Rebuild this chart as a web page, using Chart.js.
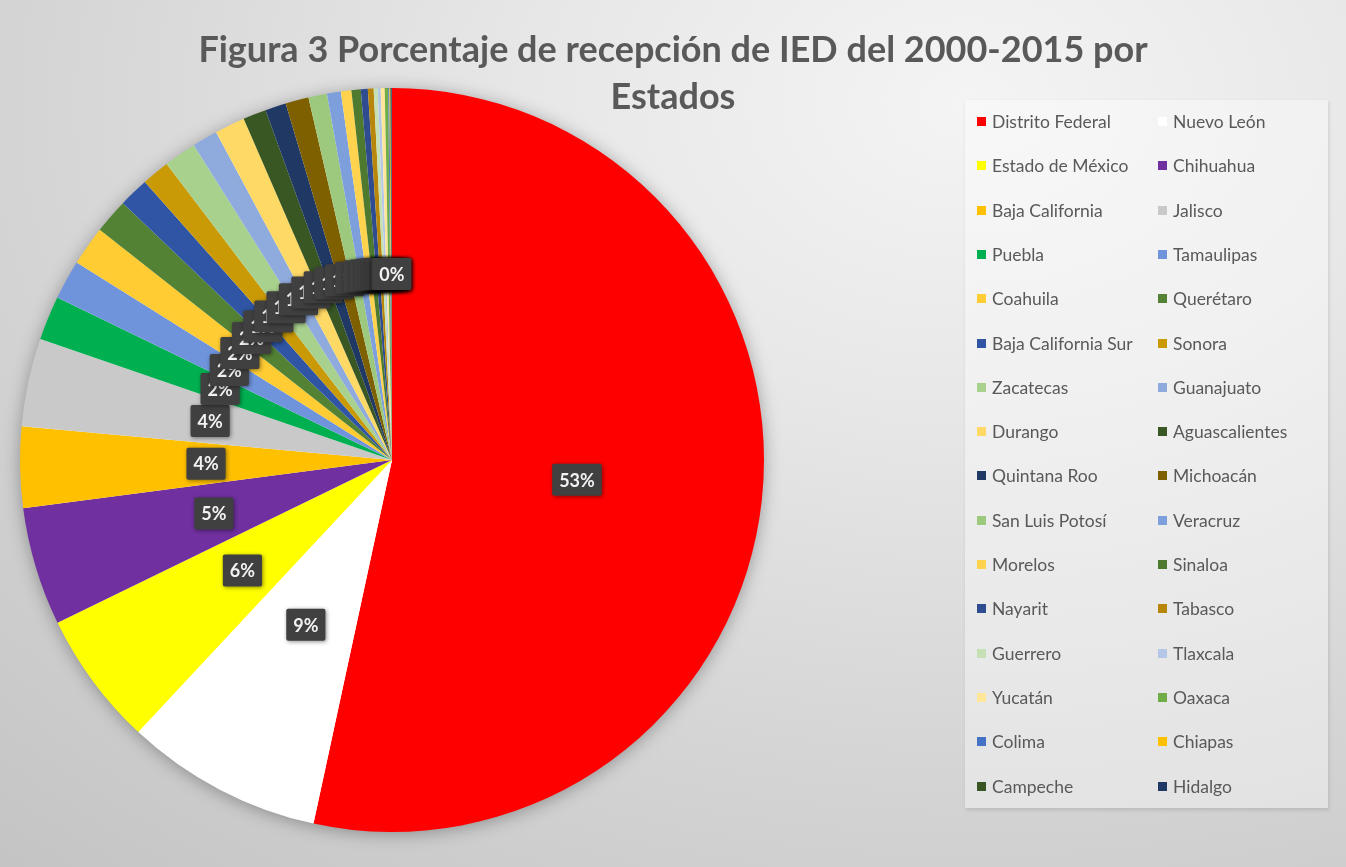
<!DOCTYPE html>
<html>
<head>
<meta charset="utf-8">
<script src="https://cdn.jsdelivr.net/npm/chart.js@4.4.1/dist/chart.umd.min.js"></script>
<style>
  html, body { margin: 0; padding: 0; }
  body {
    width: 1346px; height: 867px; overflow: hidden; position: relative;
    background: radial-gradient(ellipse 110% 120% at 72% 12%, #f4f4f4 0%, #e7e7e7 30%, #d4d4d4 65%, #c3c3c3 100%);
    font-family: Lato, "Open Sans", sans-serif;
  }
  #wrap { position: absolute; left: 0; top: 0; width: 1346px; height: 867px; }
  #title {
    position: absolute; left: 0; top: 25px; width: 1346px; text-align: center;
    font: bold 36px Lato, sans-serif; color: #595959; line-height: 47px;
  }
  #legend {
    position: absolute; left: 965px; top: 100px; width: 363px; height: 708px;
    background: rgba(255,255,255,0.38);
    box-shadow: 1px 2px 4px rgba(0,0,0,0.12);
  }
  .item { position: absolute; font-size: 17.5px; color: #595959; white-space: nowrap; line-height: 20px; }
  .item span.box { display: inline-block; width: 9px; height: 9px; margin-right: 6px; vertical-align: 2px; }
</style>
</head>
<body>
<div id="wrap"><canvas id="pie"></canvas></div>
<div id="title">Figura 3 Porcentaje de recepción de IED del 2000-2015 por<br>Estados</div>
<div id="legend"></div>
<script>
const estados = [
  'Distrito Federal', 'Nuevo León', 'Estado de México', 'Chihuahua', 'Baja California', 'Jalisco',
  'Puebla', 'Tamaulipas', 'Coahuila', 'Querétaro', 'Baja California Sur', 'Sonora',
  'Zacatecas', 'Guanajuato', 'Durango', 'Aguascalientes', 'Quintana Roo', 'Michoacán',
  'San Luis Potosí', 'Veracruz', 'Morelos', 'Sinaloa', 'Nayarit', 'Tabasco',
  'Guerrero', 'Tlaxcala', 'Yucatán', 'Oaxaca', 'Colima', 'Chiapas', 'Campeche', 'Hidalgo'
];
// percent of IED received
const porcentajes = [
  53.0, 8.5, 5.8, 5.1, 3.5, 3.8,
  1.9, 1.7, 1.7, 1.5, 1.3, 1.2,
  1.4, 1.1, 1.3, 1.0, 0.9, 1.0,
  0.8, 0.6, 0.45, 0.4, 0.3, 0.25,
  0.17, 0.13, 0.17, 0.15, 0.05, 0.04, 0.04, 0.03
];
const colores = [
  '#ff0000', '#ffffff', '#ffff00', '#7030a0', '#ffc000', '#c9c9c9',
  '#00b050', '#6f94dc', '#ffcc33', '#548235', '#2f55a4', '#c99a06',
  '#a9d18e', '#8faadc', '#ffd966', '#385723', '#203864', '#7f6000',
  '#9dc97f', '#7da0dc', '#ffd34d', '#4e7a2f', '#2e4c8f', '#b8860b',
  '#c5e0b4', '#b4c7e7', '#ffe699', '#70ad47', '#4472c4', '#ffc000', '#375623', '#1f3864'
];

// legend, two columns filled row by row
const legend = document.getElementById('legend');
for (let i = 0; i < estados.length; i++) {
  const d = document.createElement('div');
  d.className = 'item';
  d.style.left = (i % 2 === 0 ? 12 : 193) + 'px';
  d.style.top = (12 + Math.floor(i / 2) * 44.3) + 'px';
  d.innerHTML = '<span class="box" style="background:' + colores[i] + '"></span>' + estados[i];
  legend.appendChild(d);
}

const pieShadow = {
  id: 'pieShadow',
  beforeDatasetsDraw(chart) {
    const arc = chart.getDatasetMeta(0).data[0];
    if (!arc) return;
    const ctx = chart.ctx;
    ctx.save();
    ctx.shadowColor = 'rgba(0,0,0,0.35)';
    ctx.shadowBlur = 18;
    ctx.shadowOffsetX = 0;
    ctx.shadowOffsetY = 2;
    ctx.fillStyle = '#ffffff';
    ctx.beginPath();
    ctx.arc(arc.x, arc.y, arc.outerRadius - 1, 0, Math.PI * 2);
    ctx.fill();
    ctx.restore();
  }
};

const pctLabels = {
  id: 'pctLabels',
  afterDatasetsDraw(chart) {
    const ctx = chart.ctx;
    const meta = chart.getDatasetMeta(0);
    const data = chart.data.datasets[0].data;
    const total = data.reduce((a, b) => a + b, 0);
    ctx.save();
    ctx.font = 'bold 18px Lato, sans-serif';
    ctx.textAlign = 'center';
    ctx.textBaseline = 'middle';
    meta.data.forEach((arc, i) => {
      const p = arc.tooltipPosition();
      const txt = Math.round(data[i] / total * 100) + '%';
      const w = ctx.measureText(txt).width + 14;
      const h = 32;
      ctx.shadowColor = 'rgba(0,0,0,0.45)';
      ctx.shadowBlur = 4;
      ctx.shadowOffsetX = 1;
      ctx.shadowOffsetY = 1;
      ctx.fillStyle = '#404040';
      ctx.beginPath();
      ctx.roundRect(p.x - w / 2, p.y - h / 2, w, h, 2);
      ctx.fill();
      ctx.shadowColor = 'transparent';
      ctx.fillStyle = '#f2f2f2';
      ctx.fillText(txt, p.x, p.y + 1);
    });
    ctx.restore();
  }
};

new Chart(document.getElementById('pie'), {
  type: 'pie',
  data: {
    labels: estados,
    datasets: [{
      data: porcentajes,
      backgroundColor: colores,
      borderWidth: 0
    }]
  },
  options: {
    responsive: true,
    maintainAspectRatio: false,
    animation: false,
    layout: { padding: { top: 88, bottom: 35, left: 20, right: 582 } },
    plugins: {
      legend: { display: false },
      tooltip: { enabled: false },
      title: { display: false }
    }
  },
  plugins: [pieShadow, pctLabels]
});
</script>
</body>
</html>
